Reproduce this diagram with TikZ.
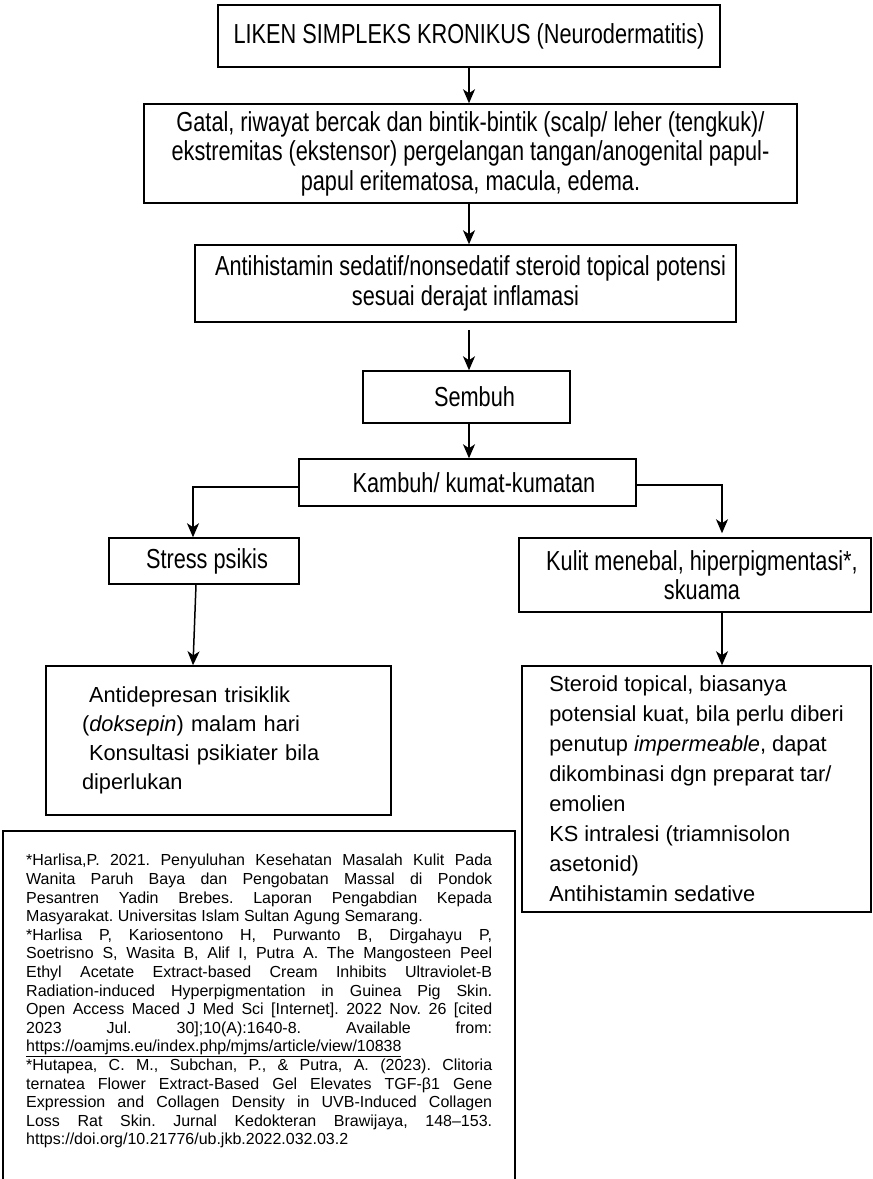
\documentclass[tikz,border=0pt]{standalone}
\usepackage{fontspec}
\setmainfont{Liberation Sans}
\newfontfamily\narrowfont[FakeStretch=0.79]{Liberation Sans}
\usetikzlibrary{arrows.meta}

% one justified reference line, and a plain closing line
\newcommand\jline[1]{\makebox[\linewidth][s]{#1}\par}
\newcommand\eline[1]{#1\par}

\begin{document}
\begin{tikzpicture}[x=1pt,y=-1pt,
  box/.style={draw, line width=1.5pt, rectangle, inner sep=0pt},
  upper/.style={box, font=\narrowfont\fontsize{27.5}{29.5}\selectfont, align=center},
  lower/.style={box, font=\fontsize{21.8}{29}\selectfont, align=left},
  flow/.style={line width=1.5pt, -{Stealth[length=14pt,width=12pt,inset=4pt]}}
]
\useasboundingbox (0,0) rectangle (873,1179);

% main column of the flow
\node[upper, minimum width=502pt, minimum height=62pt] (top) at (469,36)
  {LIKEN SIMPLEKS KRONIKUS (Neurodermatitis)};
\node[upper, minimum width=653pt, minimum height=99pt] (gatal) at (470.5,153.5)
  {Gatal, riwayat bercak dan bintik-bintik (scalp/ leher (tengkuk)/\\
   ekstremitas (ekstensor) pergelangan tangan/anogenital papul-\\
   papul eritematosa, macula, edema.};
\node[upper, minimum width=541pt, minimum height=77pt] (obat) at (465.5,283.5)
  {\hspace*{10pt}Antihistamin sedatif/nonsedatif steroid topical potensi\\
   sesuai derajat inflamasi};
\node[upper, minimum width=207pt, minimum height=52pt] (sembuh) at (466.5,397)
  {\hspace*{16pt}Sembuh};
\node[upper, minimum width=337pt, minimum height=47pt] (kambuh) at (467.5,482.5)
  {\hspace*{13pt}Kambuh/ kumat-kumatan};

% two branches
\node[upper, minimum width=190pt, minimum height=46pt] (stress) at (204,561)
  {\hspace*{6pt}Stress psikis};
\node[upper, minimum width=352pt, minimum height=74pt] (kulit) at (695,575)
  {\hspace*{14pt}Kulit menebal, hiperpigmentasi*,\\
   \hspace*{14pt}skuama};

\node[lower, minimum width=345pt, minimum height=149pt, text width=273pt]
  (depres) at (218.5,740.5)
  {\hspace*{7pt}Antidepresan trisiklik\\
   (\textit{doksepin}) malam hari\\
   \hspace*{7pt}Konsultasi psikiater bila\\
   diperlukan};
\node[lower, minimum width=349pt, minimum height=246pt,
      font=\fontsize{21.8}{30}\selectfont]
  (steroid) at (696.5,789)
  {Steroid topical, biasanya\\
   potensial kuat, bila perlu diberi\\
   penutup \textit{impermeable}, dapat\\
   dikombinasi dgn preparat tar/\\
   emolien\\
   KS intralesi (triamnisolon\\
   asetonid)\\
   Antihistamin sedative};

% reference panel, running past the lower edge
\node[draw, line width=1.5pt, rectangle, minimum width=512pt, minimum height=380pt,
      inner sep=0pt] (refbox) at (259,1021) {};
\node[anchor=north west, inner sep=0pt, font=\fontsize{16}{18.6}\selectfont]
  (refs) at (26,854)
  {\begin{minipage}[t]{466pt}\parindent=0pt\frenchspacing
   \jline{*Harlisa,P. 2021. Penyuluhan Kesehatan Masalah Kulit Pada}
   \jline{Wanita Paruh Baya dan Pengobatan Massal di Pondok}
   \jline{Pesantren Yadin Brebes. Laporan Pengabdian Kepada}
   \eline{Masyarakat. Universitas Islam Sultan Agung Semarang.}
   \jline{*Harlisa P, Kariosentono H, Purwanto B, Dirgahayu P,}
   \jline{Soetrisno S, Wasita B, Alif I, Putra A. The Mangosteen Peel}
   \jline{Ethyl Acetate Extract-based Cream Inhibits Ultraviolet-B}
   \jline{Radiation-induced Hyperpigmentation in Guinea Pig Skin.}
   \jline{Open Access Maced J Med Sci [Internet]. 2022 Nov. 26 [cited}
   \jline{2023 Jul. 30];10(A):1640-8. Available from:}
   \eline{\underline{https://oamjms.eu/index.php/mjms/article/view/10838}}
   \jline{*Hutapea, C. M., Subchan, P., \& Putra, A. (2023). Clitoria}
   \jline{ternatea Flower Extract-Based Gel Elevates TGF-β1 Gene}
   \jline{Expression and Collagen Density in UVB-Induced Collagen}
   \jline{Loss Rat Skin. Jurnal Kedokteran Brawijaya, 148–153.}
   \eline{https://doi.org/10.21776/ub.jkb.2022.032.03.2}
   \end{minipage}};

% connectors
\coordinate (col) at (469,0);
\coordinate (lcol) at (193,0);
\coordinate (rcol) at (722,0);
\coordinate (obatgap) at ([yshift=-7pt]obat.south);
\coordinate (kl) at ([yshift=-4.5pt]kambuh.west);
\coordinate (kr) at ([yshift=-2.5pt]kambuh.east);
\coordinate (sl) at ([xshift=-8pt]stress.south);

\draw[flow] (top.south -| col) -- (gatal.north -| col);
\draw[flow] (gatal.south -| col) -- (obat.north -| col);
\draw[flow] (obatgap -| col) -- (sembuh.north -| col);
\draw[flow] (sembuh.south -| col) -- (kambuh.north -| col);
\draw[flow] (kl) -| (stress.north -| lcol);
\draw[flow] (kr) -| ([yshift=4pt]kulit.north -| rcol);
\draw[flow] (sl) -- (depres.north -| lcol);
\draw[flow] (kulit.south -| rcol) -- (steroid.north -| rcol);
\end{tikzpicture}
\end{document}
